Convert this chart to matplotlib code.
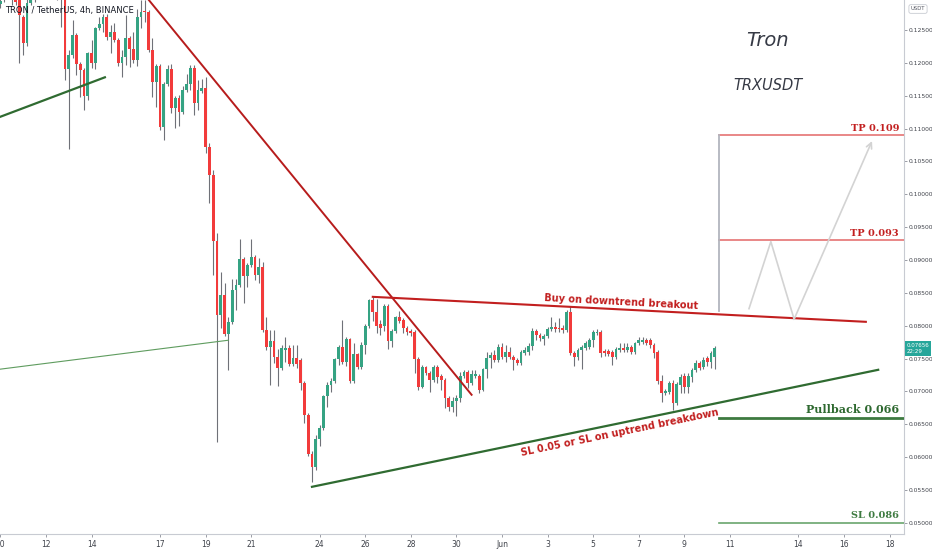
import numpy as np
import pandas as pd
import matplotlib
matplotlib.use('Agg')
import matplotlib.pyplot as plt
import matplotlib.dates as mdates
import matplotlib.transforms as mtransforms

# 4h candles TRX/USDT, from 2021-05-10 00:00, one day per row
opens = [
    0.1290, 0.1303, 0.1318, 0.1311, 0.1300, 0.1299,
    0.1270, 0.1230, 0.1291, 0.1299, 0.1314, 0.1334,
    0.1326, 0.1341, 0.1329, 0.1314, 0.1303, 0.1299,
    0.1191, 0.1212, 0.1242, 0.1198, 0.1189, 0.1150,
    0.1215, 0.1200, 0.1253, 0.1259, 0.1270, 0.1239,
    0.1247, 0.1235, 0.1200, 0.1209, 0.1238, 0.1221,
    0.1204, 0.1270, 0.1279, 0.1277, 0.1220, 0.1171,
    0.1195, 0.1102, 0.1168, 0.1191, 0.1131, 0.1147,
    0.1125, 0.1159, 0.1168, 0.1192, 0.1139, 0.1157,
    0.1162, 0.1072, 0.1029, 0.0929, 0.0816, 0.0847,
    0.0787, 0.0806, 0.0854, 0.0862, 0.0902, 0.0876,
    0.0892, 0.0905, 0.0877, 0.0889, 0.0793, 0.0768,
    0.0777, 0.0752, 0.0736, 0.0763, 0.0766, 0.0742,
    0.0751, 0.0748, 0.0713, 0.0664, 0.0605, 0.0585,
    0.0628, 0.0644, 0.0693, 0.0710, 0.0716, 0.0749,
    0.0768, 0.0745, 0.0780, 0.0716, 0.0757, 0.0737,
    0.0771, 0.0800, 0.0839, 0.0821, 0.0803, 0.0800,
    0.0830, 0.0777, 0.0792, 0.0813, 0.0809, 0.0797,
    0.0792, 0.0791, 0.0749, 0.0707, 0.0737, 0.0728,
    0.0718, 0.0737, 0.0724, 0.0718, 0.0690, 0.0676,
    0.0686, 0.0690, 0.0724, 0.0730, 0.0713, 0.0724,
    0.0724, 0.0702, 0.0734, 0.0751, 0.0756, 0.0748,
    0.0768, 0.0752, 0.0760, 0.0752, 0.0748, 0.0743,
    0.0759, 0.0760, 0.0769, 0.0792, 0.0786, 0.0780,
    0.0784, 0.0795, 0.0798, 0.0797, 0.0797, 0.0794,
    0.0821, 0.0759, 0.0752, 0.0763, 0.0766, 0.0768,
    0.0778, 0.0789, 0.0791, 0.0762, 0.0762, 0.0760,
    0.0752, 0.0763, 0.0766, 0.0763, 0.0768, 0.0760,
    0.0774, 0.0775, 0.0778, 0.0778, 0.0771, 0.0760,
    0.0716, 0.0698, 0.0699, 0.0713, 0.0682, 0.0710,
    0.0724, 0.0707, 0.0722, 0.0733, 0.0743, 0.0737,
    0.0751, 0.0745, 0.0752,
]
highs = [
    0.1299, 0.1326, 0.1334, 0.1323, 0.1308, 0.1305,
    0.1273, 0.1299, 0.1308, 0.1323, 0.1341, 0.1349,
    0.1353, 0.1350, 0.1338, 0.1323, 0.1311, 0.1302,
    0.1220, 0.1265, 0.1245, 0.1201, 0.1192, 0.1217,
    0.1235, 0.1255, 0.1270, 0.1274, 0.1274, 0.1258,
    0.1261, 0.1238, 0.1220, 0.1273, 0.1241, 0.1247,
    0.1282, 0.1296, 0.1296, 0.1280, 0.1238, 0.1198,
    0.1198, 0.1171, 0.1197, 0.1198, 0.1150, 0.1151,
    0.1165, 0.1183, 0.1197, 0.1197, 0.1174, 0.1175,
    0.1178, 0.1078, 0.1037, 0.0941, 0.0882, 0.0865,
    0.0813, 0.0871, 0.0871, 0.0932, 0.0905, 0.0895,
    0.0932, 0.0908, 0.0903, 0.0897, 0.0813, 0.0793,
    0.0793, 0.0765, 0.0771, 0.0783, 0.0771, 0.0771,
    0.0771, 0.0751, 0.0716, 0.0667, 0.0610, 0.0634,
    0.0649, 0.0695, 0.0714, 0.0721, 0.0751, 0.0771,
    0.0809, 0.0783, 0.0781, 0.0774, 0.0759, 0.0775,
    0.0803, 0.0841, 0.0844, 0.0841, 0.0809, 0.0833,
    0.0833, 0.0795, 0.0815, 0.0822, 0.0812, 0.0800,
    0.0795, 0.0794, 0.0753, 0.0740, 0.0739, 0.0731,
    0.0740, 0.0740, 0.0727, 0.0721, 0.0693, 0.0692,
    0.0695, 0.0730, 0.0733, 0.0733, 0.0733, 0.0733,
    0.0727, 0.0736, 0.0760, 0.0760, 0.0763, 0.0772,
    0.0774, 0.0771, 0.0768, 0.0756, 0.0751, 0.0763,
    0.0768, 0.0774, 0.0797, 0.0795, 0.0789, 0.0788,
    0.0798, 0.0813, 0.0806, 0.0812, 0.0801, 0.0824,
    0.0830, 0.0762, 0.0766, 0.0771, 0.0777, 0.0781,
    0.0794, 0.0795, 0.0794, 0.0765, 0.0765, 0.0763,
    0.0768, 0.0774, 0.0774, 0.0774, 0.0771, 0.0775,
    0.0783, 0.0783, 0.0781, 0.0781, 0.0774, 0.0763,
    0.0725, 0.0704, 0.0716, 0.0718, 0.0714, 0.0727,
    0.0728, 0.0728, 0.0736, 0.0748, 0.0746, 0.0753,
    0.0754, 0.0762, 0.0769,
]
lows = [
    0.1283, 0.1293, 0.1300, 0.1288, 0.1288, 0.1200,
    0.1212, 0.1226, 0.1288, 0.1293, 0.1308, 0.1318,
    0.1317, 0.1320, 0.1303, 0.1296, 0.1255, 0.1174,
    0.1069, 0.1207, 0.1182, 0.1148, 0.1128, 0.1144,
    0.1192, 0.1191, 0.1250, 0.1247, 0.1235, 0.1215,
    0.1232, 0.1195, 0.1178, 0.1197, 0.1194, 0.1200,
    0.1195, 0.1253, 0.1262, 0.1216, 0.1148, 0.1133,
    0.1098, 0.1083, 0.1165, 0.1124, 0.1101, 0.1104,
    0.1122, 0.1156, 0.1159, 0.1121, 0.1128, 0.1154,
    0.1063, 0.0987, 0.0877, 0.0623, 0.0797, 0.0784,
    0.0733, 0.0803, 0.0824, 0.0859, 0.0835, 0.0859,
    0.0889, 0.0870, 0.0865, 0.0790, 0.0763, 0.0710,
    0.0743, 0.0708, 0.0733, 0.0745, 0.0739, 0.0739,
    0.0736, 0.0702, 0.0652, 0.0602, 0.0562, 0.0581,
    0.0617, 0.0641, 0.0676, 0.0699, 0.0713, 0.0740,
    0.0742, 0.0739, 0.0713, 0.0713, 0.0734, 0.0734,
    0.0757, 0.0797, 0.0807, 0.0789, 0.0786, 0.0792,
    0.0765, 0.0768, 0.0789, 0.0804, 0.0789, 0.0786,
    0.0784, 0.0728, 0.0702, 0.0705, 0.0725, 0.0699,
    0.0714, 0.0713, 0.0702, 0.0675, 0.0670, 0.0669,
    0.0663, 0.0684, 0.0721, 0.0705, 0.0710, 0.0721,
    0.0698, 0.0701, 0.0721, 0.0736, 0.0745, 0.0745,
    0.0749, 0.0745, 0.0749, 0.0733, 0.0740, 0.0740,
    0.0756, 0.0756, 0.0763, 0.0778, 0.0777, 0.0771,
    0.0781, 0.0792, 0.0791, 0.0791, 0.0789, 0.0791,
    0.0756, 0.0739, 0.0748, 0.0734, 0.0763, 0.0765,
    0.0768, 0.0786, 0.0752, 0.0754, 0.0754, 0.0740,
    0.0749, 0.0760, 0.0760, 0.0760, 0.0757, 0.0757,
    0.0771, 0.0772, 0.0771, 0.0766, 0.0751, 0.0711,
    0.0684, 0.0695, 0.0696, 0.0672, 0.0679, 0.0698,
    0.0698, 0.0698, 0.0714, 0.0730, 0.0733, 0.0734,
    0.0739, 0.0736, 0.0734,
]
closes = [
    0.1294, 0.1318, 0.1311, 0.1299, 0.1293, 0.1273,
    0.1230, 0.1291, 0.1299, 0.1314, 0.1334, 0.1326,
    0.1341, 0.1329, 0.1314, 0.1303, 0.1299, 0.1191,
    0.1212, 0.1242, 0.1198, 0.1189, 0.1150, 0.1215,
    0.1200, 0.1253, 0.1259, 0.1270, 0.1239, 0.1247,
    0.1235, 0.1200, 0.1209, 0.1238, 0.1221, 0.1204,
    0.1270, 0.1277, 0.1277, 0.1220, 0.1171, 0.1195,
    0.1102, 0.1168, 0.1191, 0.1131, 0.1147, 0.1125,
    0.1159, 0.1168, 0.1192, 0.1139, 0.1159, 0.1162,
    0.1072, 0.1029, 0.0929, 0.0816, 0.0847, 0.0787,
    0.0806, 0.0854, 0.0862, 0.0902, 0.0876, 0.0892,
    0.0905, 0.0877, 0.0889, 0.0793, 0.0768, 0.0777,
    0.0752, 0.0736, 0.0766, 0.0766, 0.0742, 0.0751,
    0.0742, 0.0713, 0.0664, 0.0605, 0.0585, 0.0628,
    0.0644, 0.0693, 0.0710, 0.0716, 0.0749, 0.0768,
    0.0745, 0.0780, 0.0716, 0.0757, 0.0737, 0.0771,
    0.0800, 0.0839, 0.0821, 0.0800, 0.0797, 0.0830,
    0.0777, 0.0792, 0.0813, 0.0807, 0.0797, 0.0791,
    0.0789, 0.0749, 0.0707, 0.0737, 0.0728, 0.0718,
    0.0737, 0.0722, 0.0718, 0.0690, 0.0676, 0.0686,
    0.0690, 0.0724, 0.0730, 0.0713, 0.0727, 0.0727,
    0.0702, 0.0734, 0.0751, 0.0756, 0.0748, 0.0768,
    0.0752, 0.0760, 0.0752, 0.0748, 0.0743, 0.0760,
    0.0763, 0.0769, 0.0792, 0.0786, 0.0781, 0.0784,
    0.0795, 0.0798, 0.0795, 0.0795, 0.0794, 0.0821,
    0.0759, 0.0752, 0.0763, 0.0768, 0.0774, 0.0778,
    0.0791, 0.0791, 0.0759, 0.0759, 0.0757, 0.0752,
    0.0765, 0.0766, 0.0763, 0.0768, 0.0760, 0.0774,
    0.0778, 0.0778, 0.0774, 0.0771, 0.0759, 0.0716,
    0.0698, 0.0701, 0.0713, 0.0682, 0.0711, 0.0722,
    0.0707, 0.0724, 0.0733, 0.0743, 0.0736, 0.0748,
    0.0745, 0.0759, 0.0766,
]

# x axis labels (TradingView style)
tick_dates = ['2021-05-10', '2021-05-12', '2021-05-14', '2021-05-17', '2021-05-19',
              '2021-05-21', '2021-05-24', '2021-05-26', '2021-05-28', '2021-05-30',
              '2021-06-01', '2021-06-03', '2021-06-05', '2021-06-07', '2021-06-09',
              '2021-06-11', '2021-06-14', '2021-06-16', '2021-06-18']
tick_labels = ['10', '12', '14', '17', '19', '21', '24', '26', '28', '30',
               'Jun', '3', '5', '7', '9', '11', '14', '16', '18']
price_ticks = [0.050, 0.055, 0.060, 0.065, 0.070, 0.075, 0.080, 0.085,
               0.090, 0.095, 0.100, 0.105, 0.110, 0.115, 0.120, 0.125]

# levels drawn on the chart
tp1, tp2, pullback, sl = 0.109, 0.093, 0.066, 0.050
last_price = 0.07656

GREEN = '#35a383'
RED = '#f23b3b'
WICK = '#6f7178'
DKGREEN = '#2f6b31'
DKRED = '#c21f1f'

d = mdates.datestr2num

fig = plt.figure(figsize=(9.32, 5.5), dpi=100)
ax = fig.add_axes([0, 16 / 550, 904 / 932, 534 / 550])

o = np.array(opens)
h = np.array(highs)
l = np.array(lows)
c = np.array(closes)
times = pd.date_range('2021-05-10', periods=len(closes), freq='4h').to_pydatetime()
t = mdates.date2num(times)

up = c >= o
ax.vlines(t, l, h, color=WICK, lw=0.8, zorder=2)
ax.bar(t, np.maximum(np.abs(c - o), 0.00008), bottom=np.minimum(o, c), width=0.115,
       color=np.where(up, GREEN, RED), linewidth=0, zorder=3)

# trend lines
ax.plot([d('2021-05-10 00:00'), d('2021-05-14 14:00')], [0.1118, 0.1178],
        color=DKGREEN, lw=1.6, zorder=4)
ax.plot([d('2021-05-10 00:00'), d('2021-05-20 00:00')], [0.0734, 0.0778],
        color='#5f9c5f', lw=0.8, zorder=4)
ax.plot([d('2021-05-16 12:00'), d('2021-05-30 16:00')], [0.1296, 0.0695],
        color='#b71c1c', lw=1.4, zorder=4)
ax.plot([d('2021-05-26 08:00'), d('2021-06-16 23:00')], [0.0844, 0.0806],
        color=DKRED, lw=1.5, zorder=4)
ax.plot([d('2021-05-23 16:00'), d('2021-06-17 12:00')], [0.0555, 0.0733],
        color=DKGREEN, lw=1.6, zorder=4)

# target / stop levels
x0, x1 = d('2021-06-10 12:00'), d('2021-06-20 00:00')
ax.plot([x0, x1], [tp1, tp1], color='#e57373', lw=1.2, zorder=4)
ax.plot([x0, x1], [tp2, tp2], color='#e57373', lw=1.2, zorder=4)
ax.plot([x0, x1], [pullback, pullback], color='#3d7a40', lw=2, zorder=4)
ax.plot([x0, x1], [sl, sl], color='#6aa56d', lw=1.2, zorder=4)
ax.plot([x0, x0], [tp1, 0.0823], color='#b2b5be', lw=1.3, zorder=4)

# projected path
path_x = [d('2021-06-11 20:00'), d('2021-06-12 19:00'), d('2021-06-13 19:30')]
path_y = [0.0826, 0.0928, 0.0810]
ax.plot(path_x, path_y, color='#d3d3d3', lw=1.2, zorder=4)
ax.annotate('', xy=(d('2021-06-17 05:30'), 0.1081), xytext=(path_x[-1], path_y[-1]),
            arrowprops=dict(arrowstyle='->', color='#d3d3d3', lw=1.2,
                            shrinkA=0, shrinkB=0), zorder=4)

xr = d('2021-06-18 10:00')
ax.text(xr, tp1 + 0.0003, 'TP 0.109', ha='right', va='bottom', fontsize=7,
        family='DejaVu Serif', weight='bold', color=DKRED)
ax.text(xr, tp2 + 0.0003, 'TP 0.093', ha='right', va='bottom', fontsize=7,
        family='DejaVu Serif', weight='bold', color=DKRED)
ax.text(xr, pullback + 0.0004, 'Pullback 0.066', ha='right', va='bottom', fontsize=8,
        family='DejaVu Serif', weight='bold', color='#2e6930')
ax.text(xr, sl + 0.0004, 'SL 0.086', ha='right', va='bottom', fontsize=7,
        family='DejaVu Serif', weight='bold', color='#3e7b41')

ax.text(d('2021-06-06 05:00'), 0.0836, 'Buy on downtrend breakout', ha='center',
        va='center', rotation=-3, fontsize=7, weight='bold', color=DKRED)
ax.text(d('2021-06-06 04:00'), 0.0638, 'SL 0.05 or SL on uptrend breakdown', ha='center',
        va='center', rotation=11.7, fontsize=7, weight='bold', color=DKRED)

# axes formatting
ax.set_xlim(d('2021-05-09 23:35'), d('2021-06-18 15:10'))
ax.set_ylim(0.04832, 0.12956)
ax.set_xticks([d(s) for s in tick_dates])
ax.set_xticklabels(tick_labels)
ax.yaxis.tick_right()
ax.set_yticks(price_ticks)
ax.set_yticklabels(['%.5f' % p for p in price_ticks])
ax.tick_params(axis='y', labelsize=4.3, colors='#8a8d96', labelcolor='#3f424a',
               length=2, width=0.6, pad=1.5)
ax.tick_params(axis='x', labelsize=5.5, colors='#8a8d96', labelcolor='#3f424a',
               length=2, width=0.6, pad=2)
for s in ['top', 'left']:
    ax.spines[s].set_visible(False)
for s in ['right', 'bottom']:
    ax.spines[s].set_color('#c8cbd2')
    ax.spines[s].set_linewidth(0.8)

# current price tag on the price scale
trans = mtransforms.blended_transform_factory(ax.transAxes, ax.transData)
ax.text(1.003, last_price, '%.5f\n22:29' % last_price, transform=trans, ha='left',
        va='center', fontsize=4.0, color='white', linespacing=1.3, clip_on=False,
        bbox=dict(boxstyle='square,pad=0.35', fc='#26a69a', ec='none'))

fig.text(918 / 932, 1 - 9 / 550, 'USDT', ha='center', va='center', fontsize=3.8,
         color='#50535e',
         bbox=dict(boxstyle='round,pad=0.35', fc='white', ec='#c8cbd2', lw=0.6))

fig.text(5 / 932, 1 - 10 / 550, 'TRON / TetherUS, 4h, BINANCE', ha='left', va='center',
         fontsize=6, color='#131722')
fig.text(767 / 932, 1 - 41 / 550, 'Tron', ha='center', va='center', fontsize=14,
         style='italic', color='#363a45')
fig.text(768 / 932, 1 - 86 / 550, 'TRXUSDT', ha='center', va='center', fontsize=10.5,
         style='italic', color='#363a45')

fig.savefig('out.png', dpi=100, facecolor='white')
